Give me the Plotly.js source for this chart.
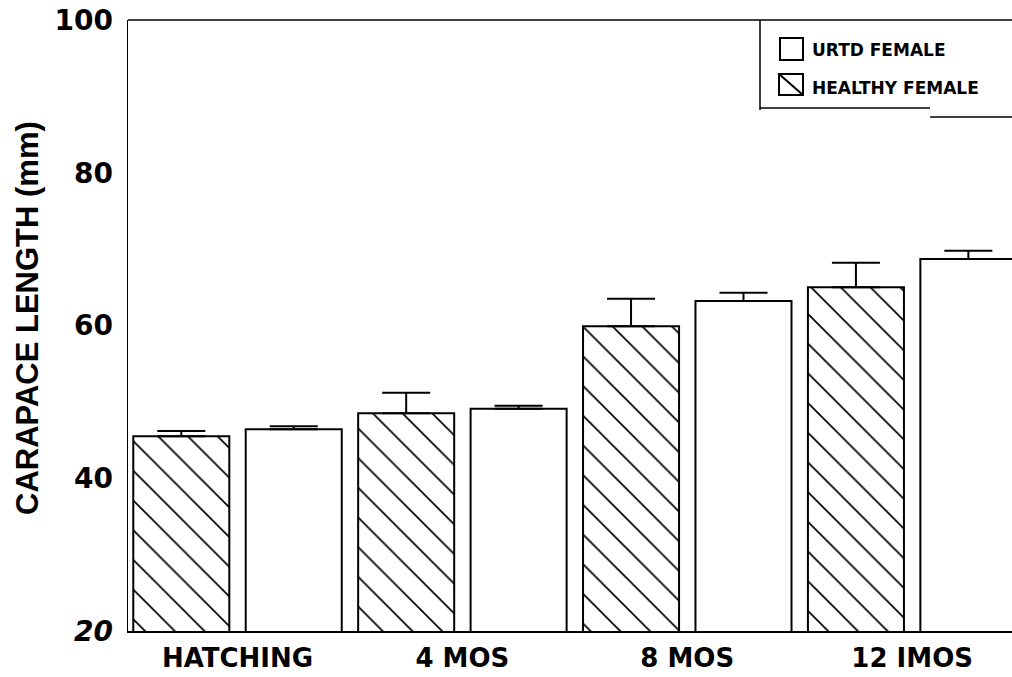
<!DOCTYPE html>
<html>
<head>
<meta charset="utf-8">
<script src="https://cdn.plot.ly/plotly-3.0.1.min.js"></script>
<style>
  html, body { margin: 0; padding: 0; background: #fff; }
  #chart { width: 1012px; height: 677px; }
</style>
</head>
<body>
<div id="chart"></div>
<script>
// Carapace length (mm) of female tortoises by age
const categories = ['HATCHING', '4 MOS', '8 MOS', '12 IMOS'];
const healthyFemale = [45.5, 48.5, 59.9, 65.0];
const healthyFemaleErr = [0.7, 2.7, 3.6, 3.2];
const urtdFemale = [46.4, 49.1, 63.2, 68.7];
const urtdFemaleErr = [0.4, 0.4, 1.1, 1.1];
const yTickVals = [20, 40, 60, 80, 100];
const yTickText = ['<i>20</i>', '40', '60', '80', '100'];

const W = 1012, H = 677;
const M = { l: 128, r: 0, t: 20, b: 46 };
const plotW = W - M.l - M.r, plotH = H - M.t - M.b;
// pixel -> paper helpers for the frame and key drawn as shapes
const px = x => (x - M.l) / plotW;
const py = y => (H - M.b - y) / plotH;

const zeros = categories.map(() => 0);
const errStyle = { type: 'data', symmetric: false, color: '#000', thickness: 2, width: 24 };

const traces = [
  {
    type: 'bar', name: 'HEALTHY FEMALE', x: categories, y: healthyFemale,
    marker: {
      color: '#fff',
      line: { color: '#000', width: 2 },
      pattern: { shape: '\\', fgcolor: '#000', bgcolor: '#fff', size: 21, solidity: 0.08 }
    },
    error_y: Object.assign({ array: healthyFemaleErr, arrayminus: zeros }, errStyle),
    showlegend: false
  },
  {
    type: 'bar', name: 'URTD FEMALE', x: categories, y: urtdFemale,
    marker: { color: '#fff', line: { color: '#000', width: 2 } },
    error_y: Object.assign({ array: urtdFemaleErr, arrayminus: zeros }, errStyle),
    showlegend: false
  }
];

const boldFont = { family: 'DejaVu Sans, Liberation Sans, Arial, sans-serif', color: '#000', weight: 700 };

const shapes = [
  // top frame line
  { type: 'line', xref: 'paper', yref: 'paper', x0: 0, x1: 1, y0: 1, y1: 1, line: { color: '#000', width: 1.5 } },
  // key box edges
  { type: 'line', xref: 'paper', yref: 'paper', x0: px(760), x1: px(760), y0: 1, y1: py(110), line: { color: '#000', width: 1.5 } },
  { type: 'line', xref: 'paper', yref: 'paper', x0: px(760), x1: px(930), y0: py(108), y1: py(108), line: { color: '#000', width: 1.5 } },
  { type: 'line', xref: 'paper', yref: 'paper', x0: px(930), x1: px(1012), y0: py(117), y1: py(117), line: { color: '#000', width: 1.5 } },
  // key swatches
  { type: 'rect', xref: 'paper', yref: 'paper', x0: px(780), x1: px(803), y0: py(60), y1: py(38), line: { color: '#000', width: 2 }, fillcolor: '#fff' },
  { type: 'rect', xref: 'paper', yref: 'paper', x0: px(779), x1: px(803), y0: py(95), y1: py(74), line: { color: '#000', width: 2 }, fillcolor: '#fff' },
  { type: 'line', xref: 'paper', yref: 'paper', x0: px(779), x1: px(803), y0: py(74), y1: py(95), line: { color: '#000', width: 2 } }
];

const annotations = [
  { xref: 'paper', yref: 'paper', x: px(810), y: py(50), xanchor: 'left', yanchor: 'middle', showarrow: false,
    text: 'URTD FEMALE', font: Object.assign({ size: 17 }, boldFont) },
  { xref: 'paper', yref: 'paper', x: px(810), y: py(88), xanchor: 'left', yanchor: 'middle', showarrow: false,
    text: 'HEALTHY FEMALE', font: Object.assign({ size: 17 }, boldFont) },
  // y axis title
  { xref: 'paper', yref: 'paper', x: px(27), y: py(318), xanchor: 'center', yanchor: 'middle', showarrow: false,
    textangle: -90, text: 'CARAPACE LENGTH (mm)',
    font: { family: 'Liberation Sans, Arial, sans-serif', size: 31, color: '#000', weight: 700 } }
];

const layout = {
  width: W, height: H,
  margin: M,
  paper_bgcolor: '#fff', plot_bgcolor: '#fff',
  barmode: 'group', bargap: 0, bargroupgap: 0.146,
  showlegend: false,
  xaxis: {
    type: 'category', range: [-0.487, 3.444],
    showgrid: false, zeroline: false,
    showline: true, linecolor: '#000', linewidth: 2,
    ticks: '', ticklabelstandoff: 3,
    tickfont: Object.assign({ size: 26 }, boldFont)
  },
  yaxis: {
    range: [20, 100], tickvals: yTickVals, ticktext: yTickText,
    showgrid: false, zeroline: false,
    showline: true, linecolor: '#000', linewidth: 1.5,
    ticks: '', ticklabelstandoff: 8,
    tickfont: Object.assign({ size: 28 }, boldFont)
  },
  shapes: shapes,
  annotations: annotations
};

Plotly.newPlot('chart', traces, layout, { displayModeBar: false, staticPlot: true });
</script>
</body>
</html>
